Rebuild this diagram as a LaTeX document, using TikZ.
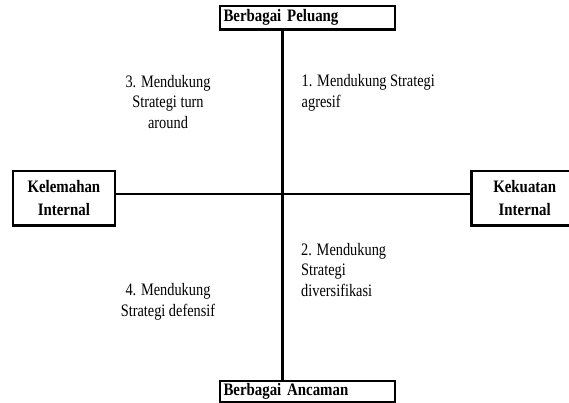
\documentclass[tikz,border=0pt]{standalone}
\usepackage{fontspec}
\setmainfont{Liberation Serif}[FakeStretch=0.82]
\newfontfamily\boxfont{Liberation Serif}[FakeStretch=0.85]
\usetikzlibrary{calc}

\begin{document}
\begin{tikzpicture}[x=1pt,y=-1pt,
    axisbox/.style={draw, line width=2.5pt, inner sep=0pt,
      font=\boxfont\bfseries\fontsize{17.5}{23.4}\selectfont},
    quadtext/.style={inner sep=0pt, font=\fontsize{17.5}{20.5}\selectfont},
    axisline/.style={line width=2.2pt}]
          % Picture frame
          \useasboundingbox (0,0) rectangle (569,403);
          \clip (0,0) rectangle (569,403);
          % Define coordinates
          \coordinate (O) at (282.5,194);
          % Draw the boxes at the axis ends
          \node[axisbox, minimum width=175pt, minimum height=23.5pt, text width=168pt, align=left] (peluang) at (307.5,17.6) {Berbagai Peluang};
          \node[axisbox, minimum width=175pt, minimum height=21pt, text width=168pt, align=left] (ancaman) at (307.5,391.5) {Berbagai Ancaman};
          \node[axisbox, minimum width=102.3pt, minimum height=54.5pt, align=center] (kelemahan) at (63.9,198.3) {Kelemahan\\Internal};
          \node[axisbox, minimum width=106pt, minimum height=54.5pt, align=center] (kekuatan) at (524.7,198.3) {Kekuatan\\Internal};
          % Draw the axes
          \draw[axisline] (O |- peluang.south) -- (O |- ancaman.north);
          \draw[axisline] (kelemahan.east |- O) -- (kekuatan.west |- O);
          % Quadrant labels (base = last line)
          \node[quadtext, anchor=base west, align=left] (agresif) at (301.5,107.5) {1. Mendukung Strategi\\agresif};
          \node[quadtext, anchor=base west, align=left] (diversifikasi) at (301,296) {2. Mendukung\\Strategi\\diversifikasi};
          \node[quadtext, anchor=base, align=center] (turnaround) at (168,128.5) {3. Mendukung\\Strategi turn\\around};
          \node[quadtext, anchor=base, align=center] (defensif) at (168,316) {4. Mendukung\\Strategi defensif};
        \end{tikzpicture}
\end{document}
